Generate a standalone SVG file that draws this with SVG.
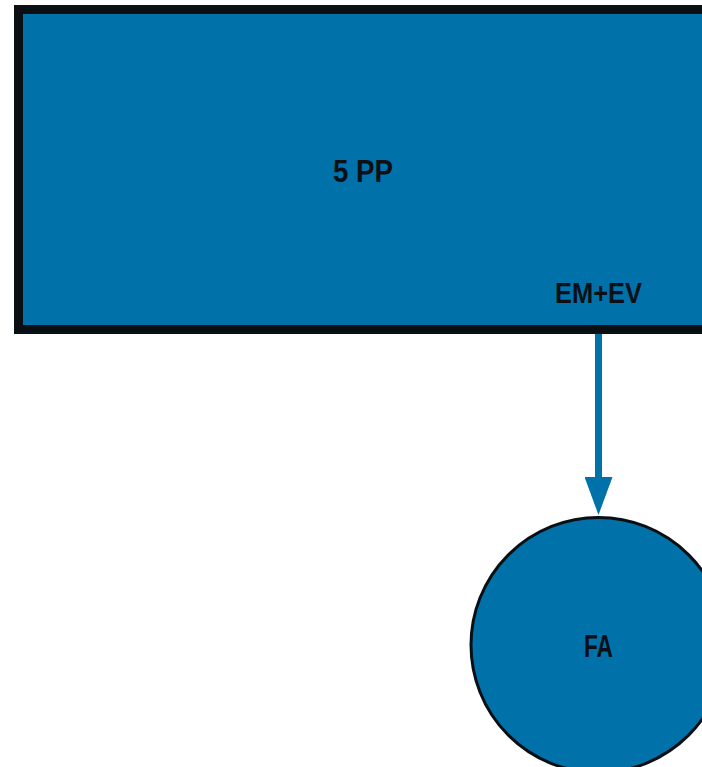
<svg xmlns="http://www.w3.org/2000/svg" width="702" height="767" viewBox="0 0 702 767">
  <style>
    .node { fill: #0071a9; }
    .lbl { font-family: "Liberation Sans", Arial, sans-serif; font-weight: bold; fill: #0b1016; text-anchor: middle; }
  </style>
  <defs>
    <marker id="arrow" markerUnits="userSpaceOnUse" markerWidth="38" markerHeight="28" refX="1" refY="14" orient="auto" viewBox="0 0 38 28">
      <path d="M0,0 L38,14 L0,28 Z" fill="#0071a9"/>
    </marker>
  </defs>
  <rect width="702" height="767" fill="#ffffff"/>
  <g id="connectors">
    <line x1="598.5" y1="334" x2="598.5" y2="478" stroke="#0071a9" stroke-width="7" marker-end="url(#arrow)"/>
  </g>
  <g id="node-5pp">
    <rect class="node" x="18.5" y="9.5" width="700" height="320" stroke="#0a0f14" stroke-width="9"/>
    <text class="lbl" x="363" y="182" font-size="31" textLength="60" lengthAdjust="spacingAndGlyphs">5 PP</text>
    <text class="lbl" x="598.5" y="303" font-size="29" textLength="87" lengthAdjust="spacingAndGlyphs">EM+EV</text>
  </g>
  <g id="node-fa">
    <circle class="node" cx="598.5" cy="645" r="127.5" stroke="#0a0f14" stroke-width="3"/>
    <text class="lbl" x="598.5" y="657" font-size="32" textLength="29" lengthAdjust="spacingAndGlyphs">FA</text>
  </g>
</svg>
